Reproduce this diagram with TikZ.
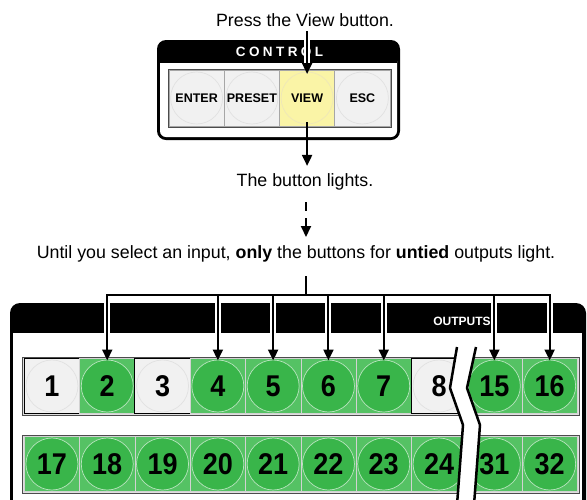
\documentclass[tikz,border=0pt]{standalone}
\usepackage{fontspec}
\setmainfont{Liberation Sans}
\newfontfamily\digitfont[FakeStretch=0.9]{Liberation Sans}
\usetikzlibrary{arrows.meta}
\definecolor{gr}{HTML}{39B54A}
\definecolor{grl}{HTML}{55C264}
\definecolor{grc}{HTML}{B8E4BE}
\definecolor{off}{HTML}{F1F1F1}
\definecolor{offc}{HTML}{E1E1E1}
\definecolor{yel}{HTML}{FAF4A6}
\definecolor{yelc}{HTML}{EEE7B8}
\begin{document}
\begin{tikzpicture}[x=1pt,y=-1pt,
  btnbase/.style={minimum width=55.3pt,minimum height=55pt,inner sep=0pt,outer sep=0pt},
  gbtn/.style={btnbase,fill=grl,draw=gray!35,line width=0.6pt,
    path picture={\fill[gr] (path picture bounding box.center) circle (26pt);
                  \draw[grc,line width=0.7pt] (path picture bounding box.center) circle (26pt);},
    font=\digitfont\fontsize{30}{30}\selectfont\bfseries},
  obtn/.style={btnbase,fill=off,draw=black,line width=0.9pt,
    path picture={\draw[offc,line width=0.7pt] (path picture bounding box.center) circle (26pt);},
    font=\digitfont\fontsize{30}{30}\selectfont\bfseries},
  cbtn/.style={btnbase,minimum width=55.25pt,minimum height=56pt,fill=off,draw=gray!70,line width=0.8pt,
    path picture={\draw[offc,line width=0.7pt] (path picture bounding box.center) circle (26pt);},
    font=\fontsize{12.5}{12.5}\selectfont\bfseries},
  vbtn/.style={cbtn,fill=yel,
    path picture={\draw[yelc,line width=0.7pt] (path picture bounding box.center) circle (26pt);}},
  caption/.style={font=\fontsize{17.8}{20}\selectfont,inner sep=1pt,anchor=base},
  rowframe/.style={draw=gray!60!black,fill=gray!25,line width=0.8pt},
  arr/.style={line width=2pt,-{Triangle[length=11pt,width=10pt]}},
  halo/.style={draw=white,line width=6pt,-{Triangle[length=11pt,width=10pt,line width=3pt]}},
  brk/.style={line width=2.5pt,line join=round}
]
\useasboundingbox (0,0) rectangle (587,499);
\clip (0,0) rectangle (587,499);

% ---------- captions ----------
\node[caption] (press) at (305,26) {Press the View button.};
\node[caption] (lights) at (305,186) {The button lights.};
\node[caption] (until) at (296,258) {Until you select an input, \textbf{only} the buttons for \textbf{untied} outputs light.};

% ---------- control panel ----------
\fill[black,rounded corners=9pt] (157,40) rectangle (400,140);
\fill[white,rounded corners=6pt] (160,55) rectangle (397,137);
\fill[black] (160,50) rectangle (397,63);
\node[text=white,font=\fontsize{13.5}{13.5}\selectfont\bfseries,inner sep=0pt] (ctl) at (279.5,52)
  {C\hspace{3.4pt}O\hspace{3.4pt}N\hspace{3.4pt}T\hspace{3.4pt}R\hspace{3.4pt}O\hspace{3.4pt}L};
\draw[rowframe] (168,69) rectangle (391,127);
\node[cbtn] (enter)  at (196.6,98) {ENTER};
\node[cbtn] (preset) at (251.9,98) {PRESET};
\node[vbtn] (view)   at (307.1,98) {VIEW};
\node[cbtn] (esc)    at (362.4,98) {ESC};

% ---------- outputs panel ----------
\fill[black,rounded corners=10pt] (10,303) rectangle (586,540);
\fill[white] (13,333) rectangle (582,540);
\node[text=white,font=\fontsize{12}{12}\selectfont\bfseries,inner sep=0pt] (outs) at (462,321) {OUTPUTS};
\draw[rowframe] (22,357) rectangle (579,415);
\draw[rowframe] (22,435) rectangle (579,493);
\foreach \lab/\st [count=\i from 0] in {1/obtn,2/gbtn,3/obtn,4/gbtn,5/gbtn,6/gbtn,7/gbtn,8/obtn,15/gbtn,16/gbtn}
  \node[\st] (b\lab) at ({24.3+55.3*(\i+0.5)},386) {\lab};
\foreach \lab [count=\i from 0] in {17,18,19,20,21,22,23,24,31,32}
  \node[gbtn] (b\lab) at ({24.3+55.3*(\i+0.5)},464) {\lab};

% break mark
\fill[white] (457,347) -- (450,388) -- (463,425) -- (457,505) -- (474,505) -- (480,425) -- (467,388) -- (476,347) -- cycle;
\draw[brk] (457,347) -- (450,388) -- (463,425) -- (457,505);
\draw[brk] (476,347) -- (467,388) -- (480,425) -- (474,505);

% ---------- connectors ----------
\draw[halo] ([yshift=-4pt]press.south -| view.north) -- ([yshift=-4pt]view.north);
\draw[arr]  ([yshift=-4pt]press.south -| view.north) -- ([yshift=-4pt]view.north);
\draw[arr]  ([yshift=4pt]view.south) -- ([yshift=6pt]lights.north -| view.south);
\coordinate (d1) at (306,202);
\coordinate (d2) at (306,211);
\coordinate (d3) at (306,218);
\coordinate (d4) at (306,237);
\draw[line width=2pt] (d1) -- (d2);
\draw[arr] (d3) -- (d4);

\coordinate (stem) at (306,276);
\coordinate (hub) at (306,295);
\foreach \b in {b2,b4,b5,b6,b7,b15,b16}
  \draw[halo] (hub) -| ([yshift=-2pt]\b.north);
\draw[line width=2pt] (stem) -- (hub);
\foreach \b in {b2,b4,b5,b6,b7,b15,b16}
  \draw[arr] (hub) -| ([yshift=-2pt]\b.north);
\end{tikzpicture}
\end{document}
